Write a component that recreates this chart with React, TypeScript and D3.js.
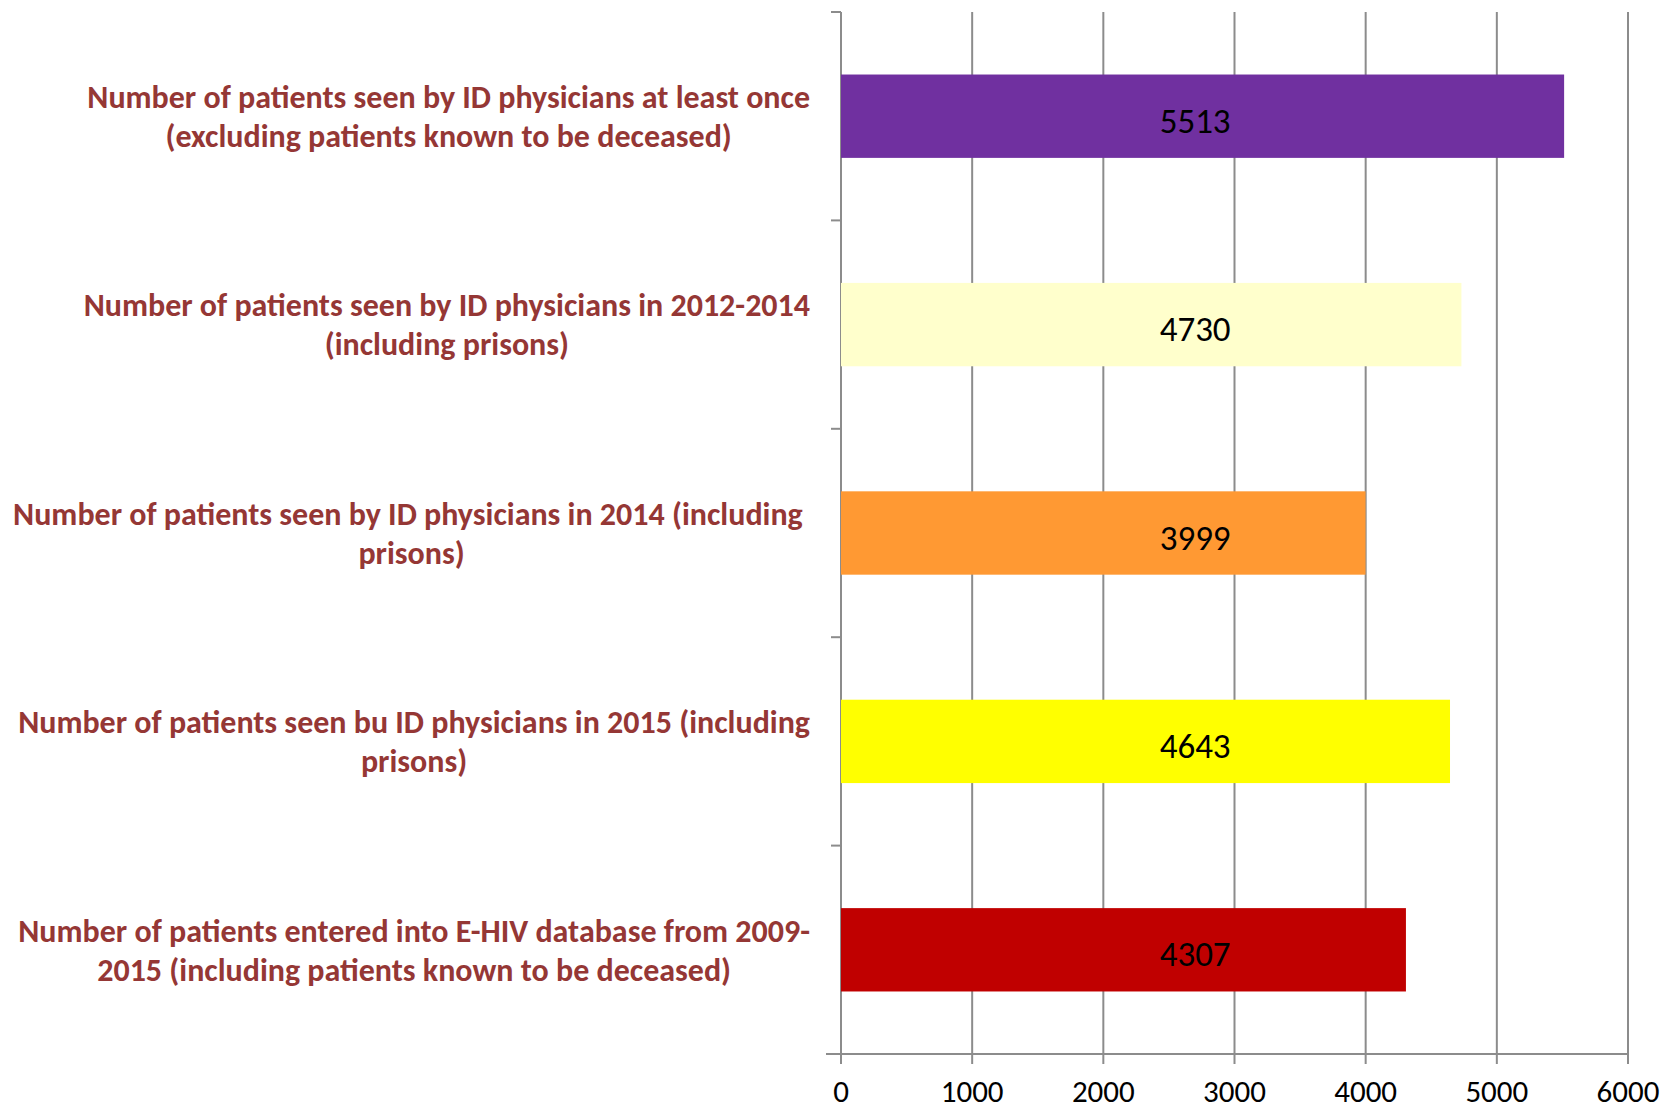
import { useEffect, useRef } from 'react'
import * as d3 from 'd3'

// ── Data ───────────────────────────────────────────────────────────────────
const CATEGORIES: string[][] = [
  ['Number of patients seen by ID physicians at least once', '(excluding patients known to be deceased)'],
  ['Number of patients seen by ID physicians in 2012-2014', '(including prisons)'],
  ['Number of patients seen by ID physicians in 2014 (including ', 'prisons)'],
  ['Number of patients seen bu ID physicians in 2015 (including', 'prisons)'],
  ['Number of patients entered into E-HIV database from 2009-', '2015 (including patients known to be deceased)'],
]
const VALUES = [5513, 4730, 3999, 4643, 4307]
const BAR_COLORS = ['#7030A0', '#FFFFCC', '#FF9933', '#FFFF00', '#C00000']
const X_TICKS = [0, 1000, 2000, 3000, 4000, 5000, 6000]

const WIDTH = 1663
const HEIGHT = 1109
const PLOT = { left: 841, right: 1628, top: 12, bottom: 1054 }
const LABEL_RIGHT = 810
const FONT = 'Carlito, Calibri, Lato, sans-serif'
const GRID = '#8c8c8c'

export default function App() {
  const svgRef = useRef<SVGSVGElement | null>(null)

  useEffect(() => {
    document.body.style.margin = '0'
    const svg = d3.select(svgRef.current)
    svg.selectAll('*').remove()
    svg.attr('width', WIDTH).attr('height', HEIGHT)

    const x = d3.scaleLinear().domain([0, 6000]).range([PLOT.left, PLOT.right])
    const y = d3.scaleBand<number>()
      .domain(d3.range(VALUES.length))
      .range([PLOT.top, PLOT.bottom])
      .paddingInner(0.6)
      .paddingOuter(0.3)
    const band = (PLOT.bottom - PLOT.top) / VALUES.length

    // ── Grid lines + x ticks ───────────────────────────────────────────────
    X_TICKS.forEach((t) => {
      svg.append('line')
        .attr('x1', x(t)).attr('x2', x(t))
        .attr('y1', PLOT.top).attr('y2', PLOT.bottom + 10)
        .attr('stroke', GRID).attr('stroke-width', 2)
      svg.append('text')
        .attr('x', x(t)).attr('y', PLOT.bottom + 48)
        .attr('text-anchor', 'middle')
        .attr('font-family', FONT).attr('font-size', 31)
        .attr('fill', '#000').text(String(t))
    })

    // ── Axes ───────────────────────────────────────────────────────────────
    svg.append('line')
      .attr('x1', PLOT.left - 15).attr('x2', PLOT.right)
      .attr('y1', PLOT.bottom).attr('y2', PLOT.bottom)
      .attr('stroke', GRID).attr('stroke-width', 2)
    svg.append('line')
      .attr('x1', PLOT.left).attr('x2', PLOT.left)
      .attr('y1', PLOT.top).attr('y2', PLOT.bottom + 10)
      .attr('stroke', GRID).attr('stroke-width', 2)
    d3.range(VALUES.length + 1).forEach((i) => {
      const ty = PLOT.top + i * band
      svg.append('line')
        .attr('x1', PLOT.left - 10).attr('x2', PLOT.left)
        .attr('y1', ty).attr('y2', ty)
        .attr('stroke', GRID).attr('stroke-width', 2)
    })

    // ── Bars ───────────────────────────────────────────────────────────────
    svg.selectAll('.bar')
      .data(VALUES)
      .join('rect')
      .attr('class', 'bar')
      .attr('x', x(0))
      .attr('y', (_, i) => y(i)!)
      .attr('width', (d) => x(d) - x(0))
      .attr('height', y.bandwidth())
      .attr('fill', (_, i) => BAR_COLORS[i])

    svg.selectAll('.val')
      .data(VALUES)
      .join('text')
      .attr('class', 'val')
      .attr('x', x(2700))
      .attr('y', (_, i) => y(i)! + y.bandwidth() / 2 + 4)
      .attr('dy', '0.36em')
      .attr('text-anchor', 'middle')
      .attr('font-family', FONT).attr('font-size', 35)
      .attr('fill', '#000')
      .text((d) => String(d))

    // ── Category labels ────────────────────────────────────────────────────
    CATEGORIES.forEach((lines, i) => {
      const cy = y(i)! + y.bandwidth() / 2
      const g = svg.append('g')
      const texts = lines.map((line, j) =>
        g.append('text')
          .attr('y', cy + (j - (lines.length - 1) / 2) * 39)
          .attr('dy', '0.35em')
          .attr('text-anchor', 'middle')
          .attr('font-family', FONT).attr('font-size', 32)
          .attr('font-weight', 'bold')
          .attr('fill', '#953735')
          .style('white-space', 'pre')
          .text(line)
      )
      const w = d3.max(texts, (t) => (t.node() as SVGTextElement).getComputedTextLength()) ?? 0
      texts.forEach((t) => t.attr('x', LABEL_RIGHT - w / 2))
    })
  }, [])

  return <svg ref={svgRef} style={{ display: 'block' }} />
}
